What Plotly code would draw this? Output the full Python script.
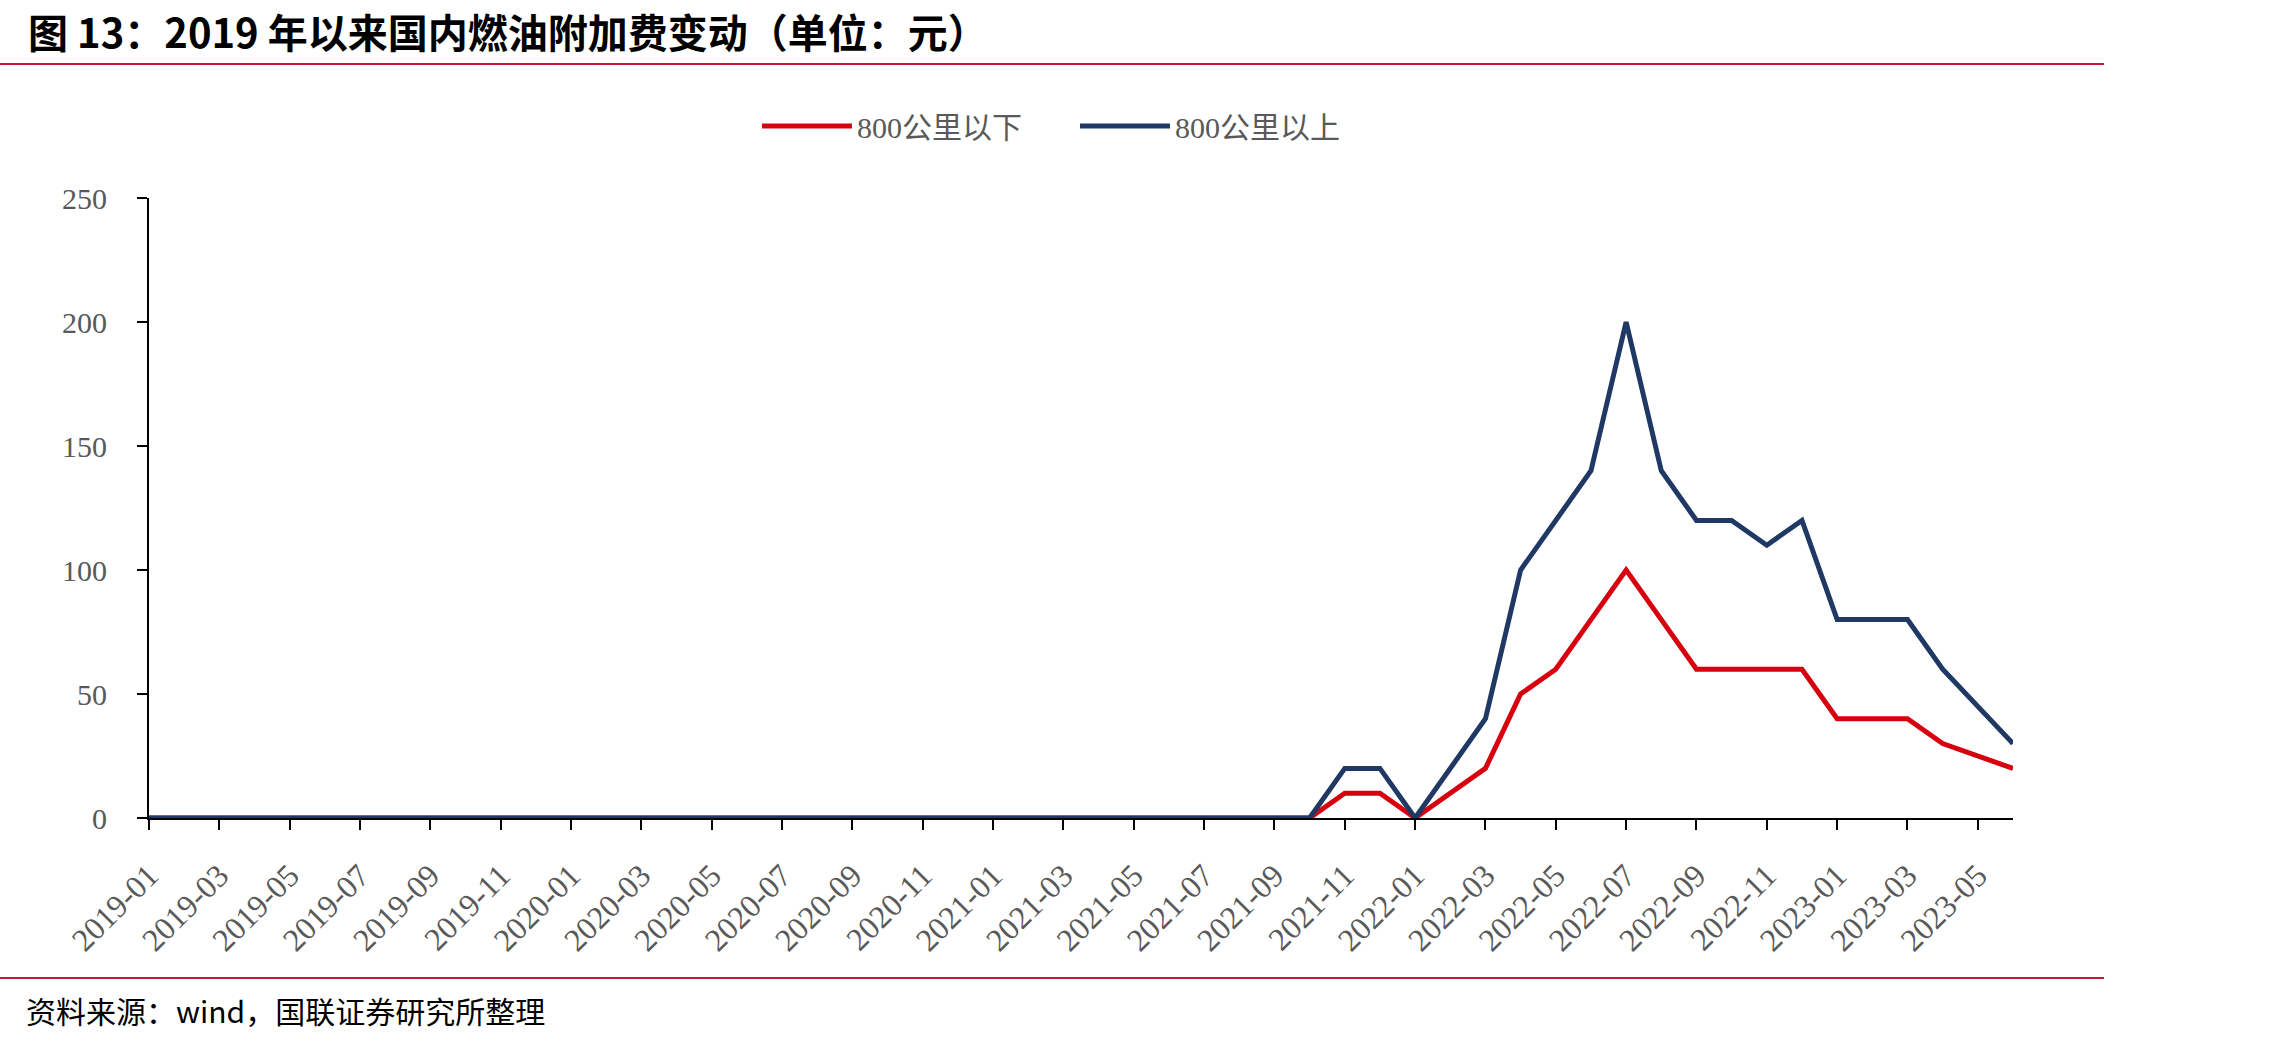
import plotly.graph_objects as go

# ---- data ----
years = [2019, 2020, 2021, 2022, 2023]
months = []
for y in years:
    for m in range(1, 13):
        if y == 2023 and m > 6:
            break
        months.append(f"{y}-{m:02d}")

below_800 = [0, 0, 0, 0, 0, 0, 0, 0, 0, 0, 0, 0,
             0, 0, 0, 0, 0, 0, 0, 0, 0, 0, 0, 0,
             0, 0, 0, 0, 0, 0, 0, 0, 0, 0, 10, 10,
             0, 10, 20, 50, 60, 80, 100, 80, 60, 60, 60, 60,
             40, 40, 40, 30, 25, 20]
above_800 = [0, 0, 0, 0, 0, 0, 0, 0, 0, 0, 0, 0,
             0, 0, 0, 0, 0, 0, 0, 0, 0, 0, 0, 0,
             0, 0, 0, 0, 0, 0, 0, 0, 0, 0, 20, 20,
             0, 20, 40, 100, 120, 140, 200, 140, 120, 120, 110, 120,
             80, 80, 80, 60, 45, 30]

series_names = ["800公里以下", "800公里以上"]
series_colors = ["#D7000F", "#203864"]

title_text = "图 13：2019 年以来国内燃油附加费变动（单位：元）"
source_text = "资料来源：wind，国联证券研究所整理"

W, H = 2271, 1043
L, R, T, B = 149, 258, 198, 225
PW, PH = W - L - R, H - T - B

fig = go.Figure()
for name, vals, col in zip(series_names, [below_800, above_800], series_colors):
    fig.add_trace(go.Scatter(x=months, y=vals, mode="lines", name=name,
                             line=dict(color=col, width=5)))

serif = "Liberation Serif, Times New Roman, Noto Sans CJK SC, serif"
grey = "#595959"

fig.update_layout(
    width=W, height=H,
    margin=dict(l=L, r=R, t=T, b=B),
    paper_bgcolor="white", plot_bgcolor="white",
    showlegend=True,
    legend=dict(orientation="h", x=(757 - L) / PW, xanchor="left",
                y=1 + (T - 126) / PH, yanchor="middle",
                font=dict(family=serif, size=30, color=grey),
                itemwidth=90, entrywidth=213, entrywidthmode="pixels",
                tracegroupgap=0, bgcolor="rgba(0,0,0,0)"),
    xaxis=dict(type="category", range=[0, len(months) - 1],
               tickmode="linear", tick0=0, dtick=2,
               tickangle=-45, ticks="outside", ticklen=10, tickwidth=2,
               tickcolor="black", showline=True, linecolor="black", linewidth=2,
               showgrid=False, zeroline=False, ticklabelstandoff=14,
               tickfont=dict(family=serif, size=32, color=grey)),
    yaxis=dict(range=[0, 250], dtick=50, ticks="outside", ticklen=10, tickwidth=2,
               tickcolor="black", showline=True, linecolor="black", linewidth=2,
               showgrid=False, zeroline=False, ticklabelstandoff=24,
               tickfont=dict(family=serif, size=30, color=grey)),
)

# header / footer
fig.add_annotation(text=f"<b>{title_text}</b>", xref="paper", yref="paper",
                   x=(26 - L) / PW, xanchor="left",
                   y=1 + (T - 31) / PH, yanchor="middle", showarrow=False,
                   font=dict(family="Noto Sans CJK SC, sans-serif", size=40, color="black"))
fig.add_annotation(text=source_text, xref="paper", yref="paper",
                   x=(24 - L) / PW, xanchor="left",
                   y=-(1010 - (H - B)) / PH, yanchor="middle", showarrow=False,
                   font=dict(family="Noto Sans CJK SC, sans-serif", size=30, color="black"))
for yy in [64, 978]:
    py = 1 - (yy - T) / PH
    fig.add_shape(type="line", xref="paper", yref="paper",
                  x0=-L / PW, x1=(2104 - L) / PW, y0=py, y1=py,
                  line=dict(color="#C8163C", width=2))

fig.write_html("out.html")
